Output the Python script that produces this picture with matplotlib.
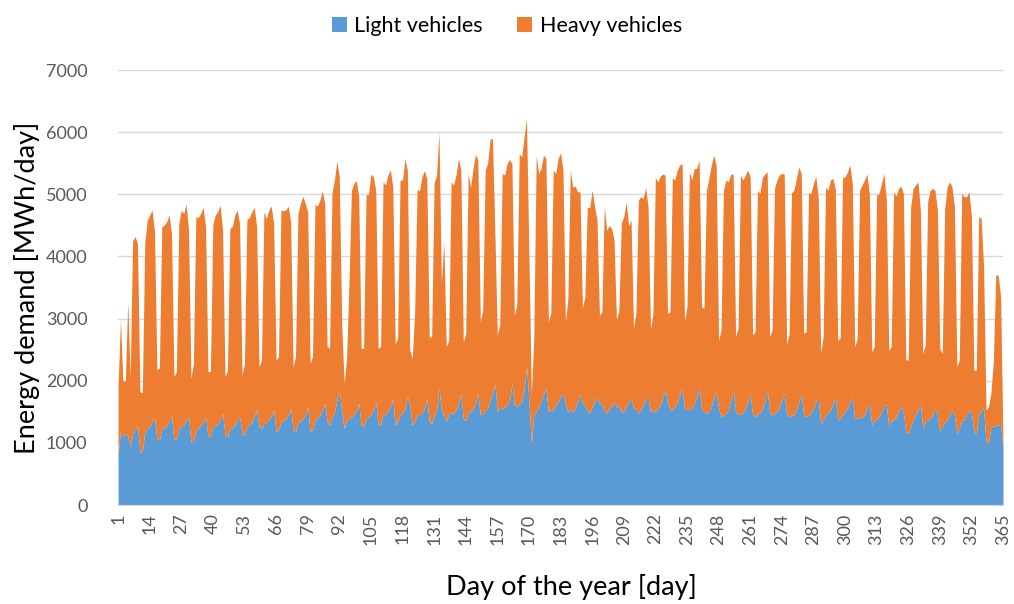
import numpy as np
import matplotlib
matplotlib.use("Agg")
import matplotlib.pyplot as plt
from matplotlib.patches import Patch

# total demand (top of stack) and light vehicles, MWh/day
# days 1-4 first, then one row per week (Mon..Sun), then days 362-365
total_demand = [
    1900, 2980, 1985, 2010,
    3270, 2065, 4250, 4320, 4210, 1820, 1810,
    4210, 4580, 4665, 4745, 4400, 2180, 2200,
    4480, 4500, 4560, 4665, 4370, 2065, 2145,
    4530, 4745, 4690, 4840, 4420, 2040, 2280,
    4640, 4625, 4690, 4790, 4480, 2145, 2145,
    4520, 4665, 4720, 4825, 4420, 2065, 2170,
    4450, 4480, 4665, 4745, 4530, 2090, 2280,
    4600, 4625, 4720, 4790, 4480, 2225, 2330,
    4720, 4610, 4745, 4810, 4530, 2330, 2390,
    4745, 4735, 4745, 4810, 4560, 2225, 2390,
    4690, 4850, 4970, 4850, 4720, 2280, 2390,
    4840, 4810, 4905, 5055, 4850, 2550, 2520,
    5015, 5230, 5535, 5280, 2900, 1960, 2350,
    3600, 5065, 5175, 5220, 4960, 2520, 2520,
    4990, 5000, 5325, 5280, 5065, 2520, 2550,
    5200, 5150, 5310, 5390, 5120, 2600, 2680,
    5230, 5230, 5575, 5390, 2500, 2350, 3100,
    5080, 5055, 5280, 5380, 5255, 2710, 2700,
    5185, 5310, 6000, 3570, 4235, 2545, 2650,
    5200, 5150, 5310, 5575, 5390, 2625, 2760,
    5335, 5110, 5415, 5645, 5550, 2950, 3135,
    5390, 5495, 5880, 5900, 4370, 2735, 2900,
    5335, 5310, 5495, 5560, 5495, 3055, 3215,
    5655, 5600, 5925, 6220, 4000, 1770, 2700,
    5630, 5335, 5415, 5630, 5575, 2950, 3085,
    5390, 5335, 5575, 5670, 5390, 2950, 3300,
    5390, 5120, 5130, 5040, 5040, 3165, 3350,
    4790, 4790, 5065, 4800, 4585, 3055, 3110,
    4810, 4420, 4500, 4450, 4265, 2975, 3135,
    4540, 4640, 4880, 4490, 4585, 2840, 3085,
    4905, 4960, 4935, 5110, 4800, 2825, 3085,
    5270, 5200, 5290, 5325, 5310, 3085, 3110,
    5270, 5230, 5390, 5470, 5495, 2950, 3190,
    5360, 5230, 5415, 5415, 5550, 3190, 3165,
    5065, 5255, 5470, 5630, 5470, 2650, 2815,
    5065, 5230, 5200, 5325, 5325, 2710, 2840,
    5310, 5230, 5310, 5390, 5280, 2735, 2790,
    5065, 5015, 5270, 5325, 5360, 2710, 2815,
    5095, 5230, 5310, 5335, 5325, 2575, 2760,
    5025, 5065, 5255, 5440, 5335, 2760, 2790,
    5015, 5015, 5175, 5290, 4935, 2440, 2710,
    5110, 5065, 5230, 5255, 5095, 2650, 2680,
    5270, 5280, 5360, 5470, 5175, 2545, 2680,
    5065, 5150, 5230, 5325, 5015, 2465, 2545,
    4990, 5015, 5175, 5335, 4905, 2495, 2545,
    5040, 4970, 5095, 5130, 5015, 2335, 2335,
    4800, 5095, 5150, 5200, 4745, 2440, 2575,
    4880, 5065, 5095, 5065, 4745, 2520, 2440,
    4770, 5120, 5200, 5120, 4800, 2225, 2335,
    5015, 4960, 4960, 5040, 4640, 2170, 2170,
    4640, 4610, 3830, 1530, 1580, 1800, 2300,
    3700, 3700, 3350, 950,
]

light = [
    800, 1180, 1110, 1130,
    1120, 930, 1150, 1200, 1285, 860, 850,
    1180, 1230, 1260, 1340, 1395, 1070, 1045,
    1230, 1240, 1285, 1340, 1450, 1045, 1070,
    1230, 1260, 1285, 1365, 1420, 1020, 1020,
    1205, 1230, 1285, 1340, 1420, 1100, 1100,
    1260, 1285, 1310, 1365, 1475, 1125, 1100,
    1230, 1240, 1285, 1365, 1430, 1150, 1125,
    1260, 1285, 1340, 1420, 1530, 1260, 1230,
    1310, 1340, 1365, 1430, 1530, 1180, 1205,
    1340, 1355, 1395, 1450, 1555, 1205, 1180,
    1340, 1340, 1395, 1450, 1580, 1180, 1205,
    1365, 1395, 1450, 1530, 1635, 1340, 1285,
    1420, 1475, 1690, 1850, 1500, 1230, 1365,
    1395, 1420, 1450, 1530, 1635, 1285, 1260,
    1395, 1420, 1450, 1530, 1660, 1285, 1310,
    1450, 1460, 1500, 1580, 1715, 1285, 1340,
    1450, 1475, 1555, 1740, 1600, 1290, 1340,
    1450, 1460, 1475, 1555, 1715, 1340, 1310,
    1450, 1500, 1875, 1530, 1450, 1340, 1475,
    1475, 1485, 1530, 1610, 1795, 1395, 1355,
    1485, 1500, 1555, 1635, 1795, 1450, 1475,
    1530, 1555, 1690, 1800, 1950, 1500, 1555,
    1555, 1580, 1610, 1660, 1955, 1610, 1580,
    1635, 1660, 1850, 2225, 1690, 990, 1450,
    1500, 1580, 1660, 1795, 1875, 1500, 1530,
    1530, 1610, 1660, 1740, 1795, 1635, 1500,
    1540, 1500, 1555, 1660, 1785, 1660, 1580,
    1530, 1475, 1580, 1660, 1740, 1635, 1610,
    1515, 1475, 1555, 1590, 1660, 1580, 1590,
    1500, 1500, 1580, 1660, 1715, 1555, 1555,
    1475, 1530, 1610, 1715, 1715, 1500, 1530,
    1500, 1555, 1610, 1715, 1875, 1635, 1530,
    1530, 1580, 1660, 1770, 1875, 1530, 1555,
    1530, 1555, 1635, 1740, 1900, 1555, 1500,
    1475, 1500, 1580, 1715, 1820, 1555, 1420,
    1450, 1475, 1530, 1690, 1850, 1500, 1450,
    1475, 1475, 1555, 1660, 1795, 1450, 1420,
    1475, 1475, 1555, 1660, 1850, 1500, 1450,
    1475, 1500, 1580, 1690, 1795, 1450, 1420,
    1450, 1450, 1530, 1660, 1795, 1450, 1420,
    1450, 1475, 1555, 1660, 1715, 1310, 1365,
    1450, 1475, 1530, 1635, 1740, 1365, 1395,
    1450, 1500, 1555, 1660, 1740, 1365, 1420,
    1395, 1420, 1450, 1555, 1635, 1285, 1365,
    1380, 1420, 1500, 1610, 1610, 1260, 1365,
    1365, 1420, 1500, 1610, 1475, 1180, 1150,
    1260, 1365, 1450, 1530, 1625, 1230, 1340,
    1365, 1395, 1450, 1555, 1450, 1180, 1260,
    1340, 1365, 1450, 1530, 1450, 1150, 1230,
    1365, 1365, 1450, 1530, 1475, 1180, 1150,
    1450, 1530, 1555, 1020, 990, 1260, 1260,
    1285, 1285, 1300, 910,
]

days = np.arange(1, len(total_demand) + 1)
tick_days = list(range(1, 366, 13))

blue = "#5B9BD5"
orange = "#ED7D31"
gray_txt = "#595959"

plt.rcParams["font.family"] = ["Lato", "DejaVu Sans"]

fig = plt.figure(figsize=(10.14, 6.04), dpi=100)
ax = fig.add_axes([0.1164, 0.1639, 0.8728, 0.7202])

ax.fill_between(days, 0, light, color=blue, linewidth=0, label="Light vehicles")
ax.fill_between(days, light, total_demand, color=orange, linewidth=0, label="Heavy vehicles")

ax.set_xlim(1, 365)
ax.set_ylim(0, 7000)
ax.set_yticks(range(0, 7001, 1000))
ax.set_xticks(tick_days)
ax.set_xticklabels([str(d) for d in tick_days], rotation=90)
ax.yaxis.grid(True, color="#D9D9D9", linewidth=1)
ax.set_axisbelow(True)
for s in ["top", "right", "left"]:
    ax.spines[s].set_visible(False)
ax.spines["bottom"].set_color("#D9D9D9")
ax.tick_params(axis="both", length=0, labelsize=13, colors=gray_txt)
ax.tick_params(axis="x", pad=6)
ax.tick_params(axis="y", pad=22)

ax.set_ylabel("Energy demand [MWh/day]", fontsize=19.5, color="black", labelpad=4)
ax.set_xlabel("Day of the year [day]", fontsize=19.5, color="black")
ax.xaxis.label.set_verticalalignment("baseline")
ax.xaxis.set_label_coords(0.512, -0.208)

handles = [Patch(facecolor=blue, label="Light vehicles"),
           Patch(facecolor=orange, label="Heavy vehicles")]
fig.legend(handles=handles, loc="upper center", bbox_to_anchor=(0.5, 1.005), ncol=2,
           frameon=False, fontsize=15.5, handlelength=0.7, handleheight=0.7,
           handletextpad=0.35, columnspacing=1.6, labelcolor="black")

fig.savefig("out.png", dpi=100)
